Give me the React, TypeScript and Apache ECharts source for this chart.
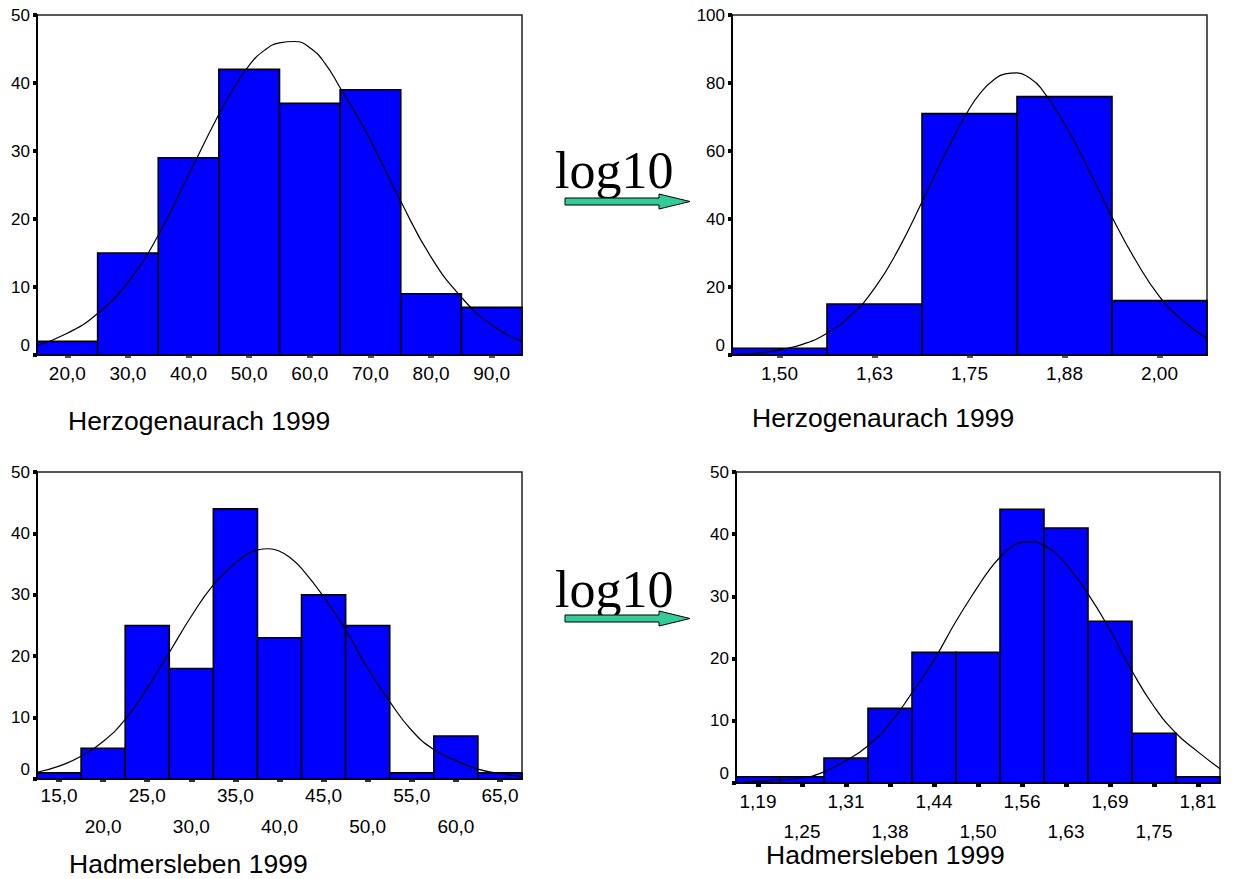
import { useEffect, useRef } from 'react';
import * as echarts from 'echarts';

const FONT = '"Liberation Sans", Arial, Helvetica, sans-serif';
const SERIF = '"Liberation Serif", "Times New Roman", Times, serif';

// ---- Herzogenaurach 1999 (raw) ----
const herzEdges = [15, 25, 35, 45, 55, 65, 75, 85, 95];
const herzCounts = [2, 15, 29, 42, 37, 39, 9, 7];
const herzTicks = [20, 30, 40, 50, 60, 70, 80, 90];
const herzTickLabels = ['20,0', '30,0', '40,0', '50,0', '60,0', '70,0', '80,0', '90,0'];
const herzCurveX = [15, 20, 25, 30, 35, 40, 45, 47.5, 50, 52.5, 55, 57.5, 60, 62.5, 65, 67.5, 70, 75, 80, 85, 90, 95];
const herzCurveY = [1.4, 3.2, 6.1, 10.7, 17.6, 26.5, 35.4, 39.3, 42.6, 44.8, 45.9, 46.1, 45.2, 42.9, 39.3, 35.6, 31.6, 22.6, 14.4, 8.5, 4.4, 2.0];

// ---- Herzogenaurach 1999 (log10) ----
const herzLogEdges = [1.4375, 1.5625, 1.6875, 1.8125, 1.9375, 2.0625];
const herzLogCounts = [2, 15, 71, 76, 16];
const herzLogTicks = [1.5, 1.625, 1.75, 1.875, 2.0];
const herzLogTickLabels = ['1,50', '1,63', '1,75', '1,88', '2,00'];
const herzLogCurveX = [1.4375, 1.46875, 1.5, 1.53125, 1.5625, 1.59375, 1.625, 1.65625, 1.6875, 1.71875, 1.75, 1.765625, 1.78125, 1.796875, 1.8125, 1.828125, 1.84375, 1.875, 1.90625, 1.9375, 1.96875, 2.0, 2.03125, 2.0625];
const herzLogCurveY = [0.2, 0.5, 1.5, 3.2, 6.4, 11.6, 19.6, 31.0, 45.0, 59.5, 72.5, 77.4, 80.8, 82.7, 83.0, 81.6, 78.6, 68.0, 54.8, 40.6, 27.8, 17.2, 10.0, 4.9];

// ---- Hadmersleben 1999 (raw) ----
const hadEdges = [12.5, 17.5, 22.5, 27.5, 32.5, 37.5, 42.5, 47.5, 52.5, 57.5, 62.5, 67.5];
const hadCounts = [1, 5, 25, 18, 44, 23, 30, 25, 1, 7, 1];
const hadTicks = [15, 20, 25, 30, 35, 40, 45, 50, 55, 60, 65];
const hadTickLabels = ['15,0', '20,0', '25,0', '30,0', '35,0', '40,0', '45,0', '50,0', '55,0', '60,0', '65,0'];
const hadCurveX = [12.5, 15, 17.5, 20, 22.5, 25, 27.5, 30, 32.5, 35, 36.25, 37.5, 38.75, 40, 41.25, 42.5, 45, 47.5, 50, 52.5, 55, 57.5, 60, 62.5, 65, 67.5];
const hadCurveY = [1.1, 2.1, 3.7, 6.1, 9.7, 14.8, 20.6, 26.5, 31.6, 35.2, 36.5, 37.3, 37.5, 37.1, 36.0, 34.3, 29.7, 24.3, 18.0, 12.6, 7.9, 4.8, 3.0, 1.6, 0.9, 0.4];

// ---- Hadmersleben 1999 (log10) ----
const hadLogEdges = [1.15625, 1.21875, 1.28125, 1.34375, 1.40625, 1.46875, 1.53125, 1.59375, 1.65625, 1.71875, 1.78125, 1.84375];
const hadLogCounts = [1, 1, 4, 12, 21, 21, 44, 41, 26, 8, 1];
const hadLogTicks = [1.1875, 1.25, 1.3125, 1.375, 1.4375, 1.5, 1.5625, 1.625, 1.6875, 1.75, 1.8125];
const hadLogTickLabels = ['1,19', '1,25', '1,31', '1,38', '1,44', '1,50', '1,56', '1,63', '1,69', '1,75', '1,81'];
const hadLogCurveX = [1.165, 1.1875, 1.21875, 1.25, 1.28125, 1.3125, 1.34375, 1.375, 1.40625, 1.4375, 1.46875, 1.5, 1.515625, 1.53125, 1.546875, 1.5625, 1.578125, 1.59375, 1.609375, 1.625, 1.65625, 1.6875, 1.71875, 1.75, 1.78125, 1.8125, 1.84375];
const hadLogCurveY = [0.1, 0.3, 0.5, 0.8, 1.8, 3.6, 6.0, 9.6, 14.5, 19.8, 26.0, 31.6, 34.2, 36.3, 37.9, 38.7, 38.8, 38.2, 37.0, 35.2, 30.4, 24.6, 18.0, 12.3, 8.0, 5.0, 2.3];

interface Panel {
  left: number; top: number; width: number; height: number;
  edges: number[]; counts: number[];
  ticks: number[]; tickLabels: string[];
  curveX: number[]; curveY: number[];
  yMax: number; yInterval: number;
  twoRows: boolean; row1Margin: number; row2Margin: number;
  tickColor: string; tickLen: number; tickWidth: number;
}

const panels: Panel[] = [
  { left: 37, top: 15, width: 485, height: 340, edges: herzEdges, counts: herzCounts, ticks: herzTicks, tickLabels: herzTickLabels, curveX: herzCurveX, curveY: herzCurveY, yMax: 50, yInterval: 10, twoRows: false, row1Margin: 9, row2Margin: 0, tickColor: '#555', tickLen: 3, tickWidth: 6 },
  { left: 732, top: 15, width: 475, height: 340, edges: herzLogEdges, counts: herzLogCounts, ticks: herzLogTicks, tickLabels: herzLogTickLabels, curveX: herzLogCurveX, curveY: herzLogCurveY, yMax: 100, yInterval: 20, twoRows: false, row1Margin: 9, row2Margin: 0, tickColor: '#555', tickLen: 3, tickWidth: 6 },
  { left: 37, top: 472, width: 485, height: 307, edges: hadEdges, counts: hadCounts, ticks: hadTicks, tickLabels: hadTickLabels, curveX: hadCurveX, curveY: hadCurveY, yMax: 50, yInterval: 10, twoRows: true, row1Margin: 7, row2Margin: 38, tickColor: '#333', tickLen: 3, tickWidth: 6 },
  { left: 736, top: 472, width: 484, height: 311, edges: hadLogEdges, counts: hadLogCounts, ticks: hadLogTicks, tickLabels: hadLogTickLabels, curveX: hadLogCurveX, curveY: hadLogCurveY, yMax: 50, yInterval: 10, twoRows: true, row1Margin: 9, row2Margin: 39, tickColor: '#000', tickLen: 4, tickWidth: 5 },
];

function nearestIndex(arr: number[], v: number) {
  let best = 0;
  for (let i = 1; i < arr.length; i++) if (Math.abs(arr[i] - v) < Math.abs(arr[best] - v)) best = i;
  return best;
}

function arrowPoints(y: number) {
  return [[565, y - 3.5], [659, y - 3.5], [659, y - 7.5], [690, y], [659, y + 7.5], [659, y + 3.5], [565, y + 3.5]];
}

export default function App() {
  const ref = useRef<HTMLDivElement>(null);
  useEffect(() => {
    if (!ref.current) return;
    const chart = echarts.init(ref.current, undefined, { renderer: 'svg' });
    const grid: any[] = [];
    const xAxis: any[] = [];
    const yAxis: any[] = [];
    const series: any[] = [];
    panels.forEach((p, i) => {
      grid.push({ left: p.left, top: p.top, width: p.width, height: p.height, show: true, borderColor: '#222', borderWidth: 1.5, backgroundColor: '#fff' });
      const fmt = (v: number) => p.tickLabels[nearestIndex(p.ticks, v)];
      const row1 = p.twoRows ? p.ticks.filter((_, k) => k % 2 === 0) : p.ticks;
      const row2 = p.ticks.filter((_, k) => k % 2 === 1);
      const mainIndex = xAxis.length;
      xAxis.push({
        type: 'value', gridIndex: i, position: 'bottom', min: p.edges[0], max: p.edges[p.edges.length - 1],
        axisLine: { show: true, onZero: false, lineStyle: { color: '#000', width: 2 } },
        axisTick: { show: true, customValues: p.ticks, length: p.tickLen, lineStyle: { color: p.tickColor, width: p.tickWidth } },
        axisLabel: {
          show: true, customValues: row1, margin: p.row1Margin, fontSize: 19, lineHeight: 19,
          fontFamily: FONT, color: '#000', formatter: fmt,
        },
        splitLine: { show: false },
      });
      if (p.twoRows) {
        xAxis.push({
          type: 'value', gridIndex: i, position: 'bottom', offset: 0, min: p.edges[0], max: p.edges[p.edges.length - 1],
          axisLine: { show: false }, axisTick: { show: false }, splitLine: { show: false },
          axisLabel: {
            show: true, customValues: row2, margin: p.row2Margin, fontSize: 19, lineHeight: 19,
            fontFamily: FONT, color: '#000', formatter: fmt,
          },
        });
      }
      yAxis.push({
        type: 'value', gridIndex: i, min: 0, max: p.yMax, interval: p.yInterval,
        axisLine: { show: true, lineStyle: { color: '#000', width: 2 } },
        axisTick: { show: true, length: 4, lineStyle: { color: '#000', width: 4 } },
        axisLabel: {
          margin: 7, fontSize: 17, lineHeight: 20, fontFamily: FONT, color: '#000',
          formatter: (v: number) => (v === 0 ? '0\n' : String(v)),
        },
        splitLine: { show: false },
      });
      const histData = p.counts.map((c, k) => [p.edges[k], p.edges[k + 1], c]);
      series.push({
        type: 'custom', xAxisIndex: mainIndex, yAxisIndex: i, z: 2,
        encode: { x: [0, 1], y: 2 },
        data: histData,
        renderItem: (_params: any, api: any) => {
          const a = api.coord([api.value(0), api.value(2)]);
          const b = api.coord([api.value(1), 0]);
          return {
            type: 'rect',
            shape: { x: a[0], y: a[1], width: b[0] - a[0], height: b[1] - a[1] },
            style: { fill: '#0000ff', stroke: '#000', lineWidth: 1.6 },
          };
        },
      });
      series.push({
        type: 'line', xAxisIndex: mainIndex, yAxisIndex: i, z: 3,
        data: p.curveX.map((x, k) => [x, p.curveY[k]]),
        smooth: 0.5, symbol: 'none', showSymbol: false,
        lineStyle: { color: '#000', width: 1.2 },
      });
    });

    const titleStyle = { fontSize: 26.5, fontFamily: FONT, fill: '#000', verticalAlign: 'middle', align: 'left' };
    const logStyle = { fontSize: 52, fontFamily: SERIF, fill: '#000', verticalAlign: 'middle', align: 'left' };
    chart.setOption({
      animation: false,
      backgroundColor: '#fff',
      grid, xAxis, yAxis, series,
      graphic: [
        { type: 'text', x: 68, y: 421, style: { ...titleStyle, text: 'Herzogenaurach 1999' } },
        { type: 'text', x: 752, y: 418, style: { ...titleStyle, text: 'Herzogenaurach 1999' } },
        { type: 'text', x: 69, y: 864, style: { ...titleStyle, text: 'Hadmersleben 1999' } },
        { type: 'text', x: 766, y: 855, style: { ...titleStyle, text: 'Hadmersleben 1999' } },
        { type: 'text', x: 555, y: 170, style: { ...logStyle, text: 'log10' } },
        { type: 'text', x: 555, y: 589, style: { ...logStyle, text: 'log10' } },
        { type: 'polygon', shape: { points: arrowPoints(201.5) }, style: { fill: '#33cc99', stroke: '#000', lineWidth: 1 } },
        { type: 'polygon', shape: { points: arrowPoints(618.5) }, style: { fill: '#33cc99', stroke: '#000', lineWidth: 1 } },
      ],
    });
    return () => chart.dispose();
  }, []);
  return <div ref={ref} style={{ position: 'absolute', left: 0, top: 0, width: 1233, height: 879 }} />;
}
